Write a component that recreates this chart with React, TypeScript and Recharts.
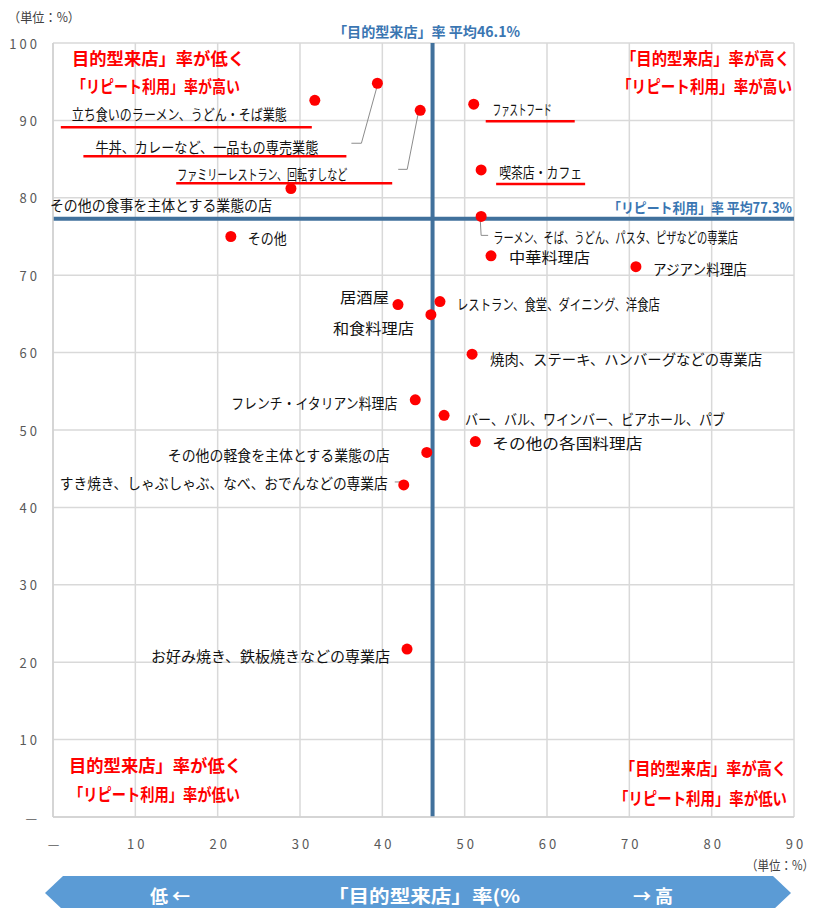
import React from 'react';
import { ScatterChart, Scatter, XAxis, YAxis, CartesianGrid, ReferenceLine } from 'recharts';

const categories = [
  '立ち食いのラーメン、うどん・そば業態',
  '牛丼、カレーなど、一品もの専売業態',
  'ファミリーレストラン、回転すしなど',
  'ファストフード',
  '喫茶店・カフェ',
  'その他の食事を主体とする業態の店',
  'その他',
  'ラーメン、そば、うどん、パスタ、ピザなどの専業店',
  '中華料理店',
  'アジアン料理店',
  '居酒屋',
  '和食料理店',
  'レストラン、食堂、ダイニング、洋食店',
  '焼肉、ステーキ、ハンバーグなどの専業店',
  'フレンチ・イタリアン料理店',
  'バー、バル、ワインバー、ビアホール、パブ',
  'その他の各国料理店',
  'その他の軽食を主体とする業態の店',
  'すき焼き、しゃぶしゃぶ、なべ、おでんなどの専業店',
  'お好み焼き、鉄板焼きなどの専業店',
];
// 「目的型来店」率 (x)
const purposeRate = [31.8, 39.4, 44.6, 51.1, 52.0, 28.9, 21.6, 52.0, 53.2, 70.8, 41.9, 45.9, 47.0, 50.9, 44.0, 47.5, 51.3, 45.4, 42.6, 43.0];
// 「リピート利用」率 (y)
const repeatRate = [92.6, 94.8, 91.3, 92.1, 83.6, 81.2, 75.0, 77.6, 72.5, 71.1, 66.2, 64.9, 66.6, 59.8, 53.9, 51.9, 48.5, 47.1, 42.9, 21.7];

const purposeMean = 46.1;
const repeatMean = 77.3;

const xTicks = [0, 10, 20, 30, 40, 50, 60, 70, 80, 90];
const yTicks = [0, 10, 20, 30, 40, 50, 60, 70, 80, 90, 100];

// label layout (pixel offsets from each point) - style only
type Layout = { dx: number; dy: number; w: number; ul?: [number, number, number]; leader?: [number, number][] };
const labelLayout: Layout[] = [
  { dx: -243, dy: 13, w: 215, ul: [-254, 251, 27] },
  { dx: -282, dy: 63, w: 223, ul: [-294, 263, 73], leader: [[0, 2], [-16, 60], [-26, 60]] },
  { dx: -243, dy: 63, w: 170, ul: [-244, 216, 73], leader: [[-2, 3], [-13, 59], [-22, 59]] },
  { dx: 19, dy: 4, w: 59, ul: [12, 89, 17] },
  { dx: 18, dy: 2, w: 83, ul: [15, 89, 14] },
  { dx: -241, dy: 16, w: 222 },
  { dx: 17, dy: 1, w: 39 },
  { dx: 12, dy: 20, w: 245, leader: [[-1, 1], [0, 19], [7, 19]] },
  { dx: 18, dy: 1, w: 81 },
  { dx: 17, dy: 2, w: 94 },
  { dx: -58, dy: -8, w: 49 },
  { dx: -98, dy: 13, w: 81 },
  { dx: 17, dy: 2, w: 203 },
  { dx: 18, dy: 4, w: 272 },
  { dx: -184, dy: 3, w: 166 },
  { dx: 21, dy: 3, w: 260 },
  { dx: 17, dy: 1, w: 150 },
  { dx: -259, dy: 2, w: 222 },
  { dx: -344, dy: -2, w: 328, leader: [[-9, -3], [-2, -3]] },
  { dx: -256, dy: 6, w: 239 },
];

const points = categories.map((name, i) => ({ name, x: purposeRate[i], y: repeatRate[i], i }));

const FONT = '"Noto Sans CJK JP", "Noto Sans", sans-serif';

const PointShape = (props: any) => {
  const { cx, cy, payload } = props;
  const i = payload.i;
  const L = labelLayout[i];
  return (
    <g>
      {L.leader && (
        <polyline
          points={L.leader.map(([a, b]) => `${cx + a},${cy + b}`).join(' ')}
          fill="none"
          stroke="#8c8c8c"
          strokeWidth={1}
        />
      )}
      <circle cx={cx} cy={cy} r={5.5} fill="#ff0000" />
      <text
        x={cx + L.dx}
        y={cy + L.dy}
        dominantBaseline="central"
        fontFamily={FONT}
        fontSize={14.5}
        fill="#111"
        textLength={L.w}
        lengthAdjust="spacingAndGlyphs"
      >
        {payload.name}
      </text>
      {L.ul && (
        <line x1={cx + L.ul[0]} x2={cx + L.ul[0] + L.ul[1]} y1={cy + L.ul[2]} y2={cy + L.ul[2]} stroke="#ff0000" strokeWidth={2.5} />
      )}
    </g>
  );
};

const YTick = (props: any) => {
  const { x, y, payload } = props;
  return (
    <text x={x - 5} y={y} dominantBaseline="central" textAnchor="end" fontFamily={FONT} fontSize={13} fill="#595959" letterSpacing={3}>
      {payload.value === 0 ? '—' : payload.value}
    </text>
  );
};

const XTick = (props: any) => {
  const { x, y, payload } = props;
  return (
    <text x={x + 2} y={y + 18} dominantBaseline="central" textAnchor="middle" fontFamily={FONT} fontSize={13} fill="#595959" letterSpacing={3}>
      {payload.value === 0 ? '—' : payload.value}
    </text>
  );
};

const quadText = [
  { t: '目的型来店」率が低く', x: 72, y: 57, w: 173 },
  { t: '「リピート利用」率が高い', x: 72, y: 85, w: 168 },
  { t: '「目的型来店」率が高く', x: 621, y: 57, w: 169 },
  { t: '「リピート利用」率が高い', x: 617, y: 85, w: 175 },
  { t: '目的型来店」率が低く', x: 69, y: 764, w: 173 },
  { t: '「リピート利用」率が低い', x: 69, y: 793, w: 171 },
  { t: '「目的型来店」率が高く', x: 620, y: 767, w: 167 },
  { t: '「リピート利用」率が低い', x: 614, y: 797, w: 173 },
];

export default function App() {
  return (
    <div style={{ position: 'absolute', left: 0, top: 0, width: 820, height: 908, background: '#fff', overflow: 'hidden' }}>
      <ScatterChart width={820} height={908} margin={{ top: 43, right: 26, bottom: 51, left: 13 }}>
        <CartesianGrid stroke="#d9d9d9" strokeWidth={1.5} />
        <XAxis
          type="number"
          dataKey="x"
          domain={[0, 90]}
          ticks={xTicks}
          interval={0}
          height={40}
          tickLine={false}
          axisLine={{ stroke: '#d0d0d0', strokeWidth: 1.5 }}
          tick={<XTick />}
        />
        <YAxis
          type="number"
          dataKey="y"
          domain={[0, 100]}
          ticks={yTicks}
          interval={0}
          width={40}
          tickLine={false}
          axisLine={{ stroke: '#d0d0d0', strokeWidth: 1.5 }}
          tick={<YTick />}
        />
        <ReferenceLine x={purposeMean} stroke="#41719c" strokeWidth={4} />
        <ReferenceLine y={repeatMean} stroke="#41719c" strokeWidth={4} />
        <Scatter data={points} isAnimationActive={false} shape={<PointShape />} />
      </ScatterChart>
      <svg width={820} height={908} style={{ position: 'absolute', left: 0, top: 0, pointerEvents: 'none' }}>
        <text x={8} y={16} dominantBaseline="central" fontFamily={FONT} fontSize={13} fill="#404040" textLength={72} lengthAdjust="spacingAndGlyphs">（単位：%）</text>
        <text x={746} y={864} dominantBaseline="central" fontFamily={FONT} fontSize={13} fill="#404040" textLength={68} lengthAdjust="spacingAndGlyphs">（単位：%）</text>
        <text x={333} y={31} dominantBaseline="central" fontFamily={FONT} fontSize={14} fontWeight={700} fill="#3a76b2" textLength={187} lengthAdjust="spacingAndGlyphs">
          {`「目的型来店」率 平均${purposeMean}%`}
        </text>
        <text x={608} y={207} dominantBaseline="central" fontFamily={FONT} fontSize={14} fontWeight={700} fill="#3a76b2" textLength={184} lengthAdjust="spacingAndGlyphs">
          {`「リピート利用」率 平均${repeatMean}%`}
        </text>
        {quadText.map((q, k) => (
          <text key={k} x={q.x} y={q.y} dominantBaseline="central" fontFamily={FONT} fontSize={17} fontWeight={700} fill="#ff0000" textLength={q.w} lengthAdjust="spacingAndGlyphs">
            {q.t}
          </text>
        ))}
        <polygon points="45,893 63,876 773,876 791,893 773,910 63,910" fill="#5b9bd5" />
        <text x={150} y={895} dominantBaseline="central" fontFamily={FONT} fontSize={18} fontWeight={700} fill="#fff">低 ←</text>
        <text x={328} y={895} dominantBaseline="central" fontFamily={FONT} fontSize={18} fontWeight={700} fill="#fff" textLength={192} lengthAdjust="spacingAndGlyphs">「目的型来店」率(%</text>
        <text x={633} y={895} dominantBaseline="central" fontFamily={FONT} fontSize={18} fontWeight={700} fill="#fff">→ 高</text>
      </svg>
    </div>
  );
}
